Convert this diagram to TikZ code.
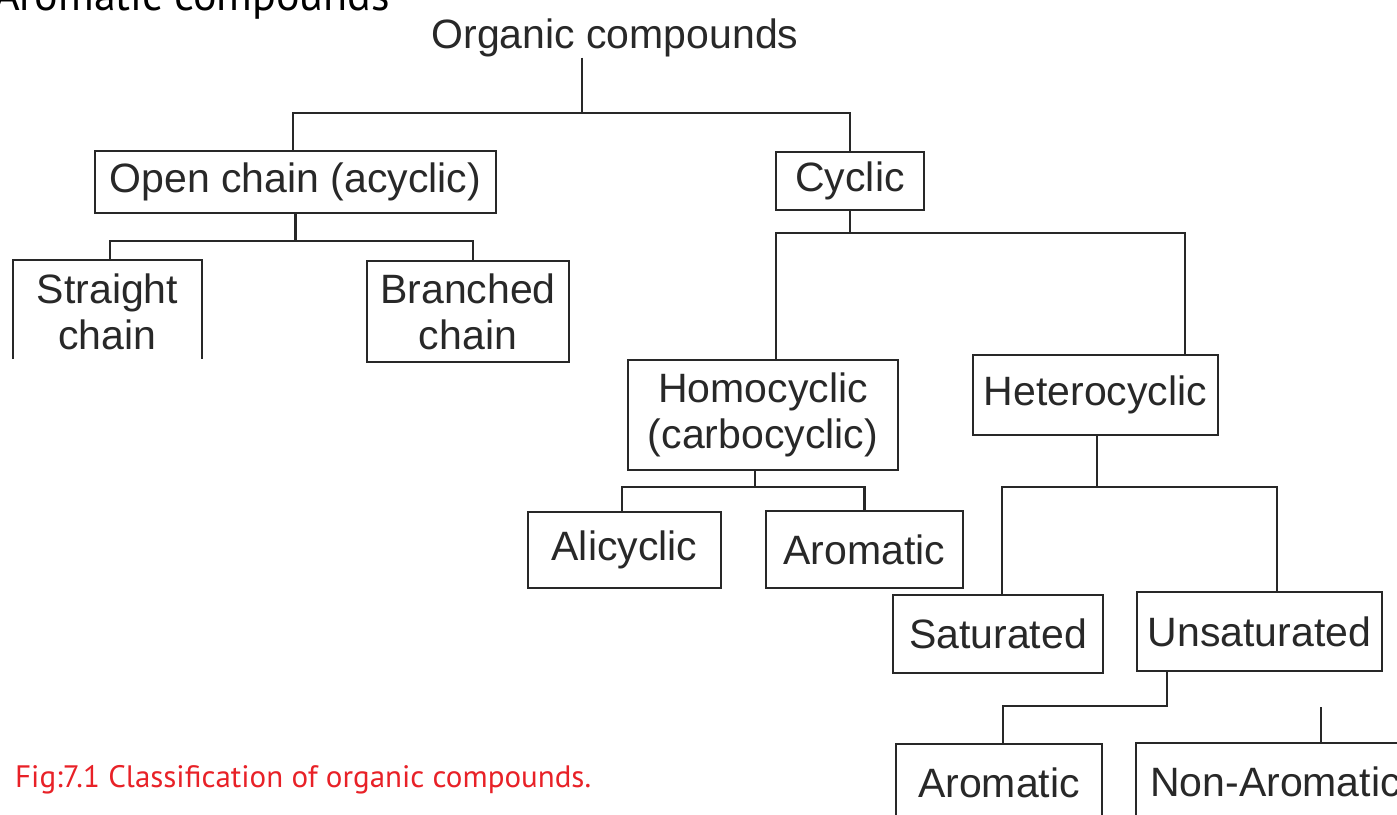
\documentclass[tikz,border=0pt]{standalone}
\usepackage{fontspec}
\setmainfont{Liberation Sans}
\newfontfamily\capfont{PT Sans}
\usepackage{xcolor}
\usetikzlibrary{positioning,calc}
\definecolor{ink}{RGB}{40,40,40}
\definecolor{capred}{RGB}{232,33,39}
\tikzset{
  box/.style={draw=ink, line width=2pt, align=center, text=ink,
              font=\fontsize{41}{46}\selectfont, inner sep=0pt},
  openbox/.style={box, draw=none},
  link/.style={draw=ink, line width=2.6pt},
  captext/.style={font=\capfont\fontsize{31}{34}\selectfont, inner sep=0pt},
}

\begin{document}
\begin{tikzpicture}[x=1pt, y=-1pt]
  \useasboundingbox (0,0) rectangle (1397,814);
  % stray heading from the page above
  \node[captext, font=\capfont\fontsize{44}{46}\selectfont, anchor=base east]
    (stray) at (390,10) {Aromatic compounds};
  % root
  \node[openbox, anchor=base] (org) at (615,48) {Organic compounds};
  % first level
  \node[box, minimum width=401pt, minimum height=62pt] (open) at (295.5,182)
    {Open chain (acyclic)};
  \node[box, minimum width=148pt, minimum height=58pt] (cyclic) at (850,181)
    {Cyclic};
  % open chain children
  \node[openbox, minimum width=187pt, minimum height=101pt] (straight)
    at (107.5,311.5) {Straight\\chain};
  \node[box, minimum width=202pt, minimum height=101pt] (branched)
    at (468,311.5) {Branched\\chain};
  % cyclic children
  \node[box, minimum width=270pt, minimum height=110pt] (homo) at (763,415)
    {Homocyclic\\(carbocyclic)};
  \node[box, minimum width=245pt, minimum height=80pt] (hetero) at (1095.5,395)
    {Heterocyclic};
  \node[box, minimum width=193pt, minimum height=76pt] (alicyc) at (624.5,550)
    {Alicyclic};
  \node[box, minimum width=197pt, minimum height=77pt] (aroma) at (864.5,549.5)
    {Aromatic};
  \node[box, minimum width=210pt, minimum height=78pt] (satur) at (998,634)
    {Saturated};
  \node[box, minimum width=245pt, minimum height=79pt] (unsat) at (1259.5,631.5)
    {Unsaturated};
  \node[box, minimum width=206pt, minimum height=78pt] (aromb) at (999,783)
    {Aromatic};
  \node[box, minimum width=279pt, minimum height=78pt] (nonarom) at (1275.5,782)
    {Non-Aromatic};
  % straight chain box is left open at the bottom
  \draw[ink, line width=2pt] ([yshift=4pt]straight.south west)
    -- (straight.north west) -- (straight.north east)
    -- ([yshift=4pt]straight.south east);
  % junctions
  \coordinate (j1) at (582,113);
  \coordinate (j2) at (850,233);
  \coordinate (j3) at (295.5,241);
  \coordinate (j4) at (755,487);
  \coordinate (j5) at (1097,487);
  \coordinate (j6) at (1167,706);
  \coordinate (j7) at (1321,707);
  % connectors
  \draw[link] (org.south -| j1) -- (j1);
  \draw[link] ([xshift=-2.5pt]open.north) |- (j1) -| (cyclic.north);
  \draw[link] (cyclic.south) -- (j2);
  \draw[link] ([xshift=13pt]homo.north) |- (j2) -| ([xshift=89.5pt]hetero.north);
  \draw[link] (open.south) -- (j3);
  \draw[link] ([xshift=2.5pt]straight.north) |- (j3) -| ([xshift=5pt]branched.north);
  \draw[link] (homo.south -| j4) -- (j4);
  \draw[link] ([xshift=-2.5pt]alicyc.north) |- (j4) -| (aroma.north);
  \draw[link] (hetero.south -| j5) -- (j5);
  \draw[link] ([xshift=4pt]satur.north) |- (j5) -| ([xshift=17.5pt]unsat.north);
  \draw[link] (unsat.south -| j6) -- (j6) -| ([xshift=4pt]aromb.north);
  \draw[link] (nonarom.north -| j7) -- (j7);
  % caption
  \node[captext, text=capred, anchor=base west] (caption) at (15,787)
    {Fig:7.1 Classification of organic compounds.};
\end{tikzpicture}
\end{document}
